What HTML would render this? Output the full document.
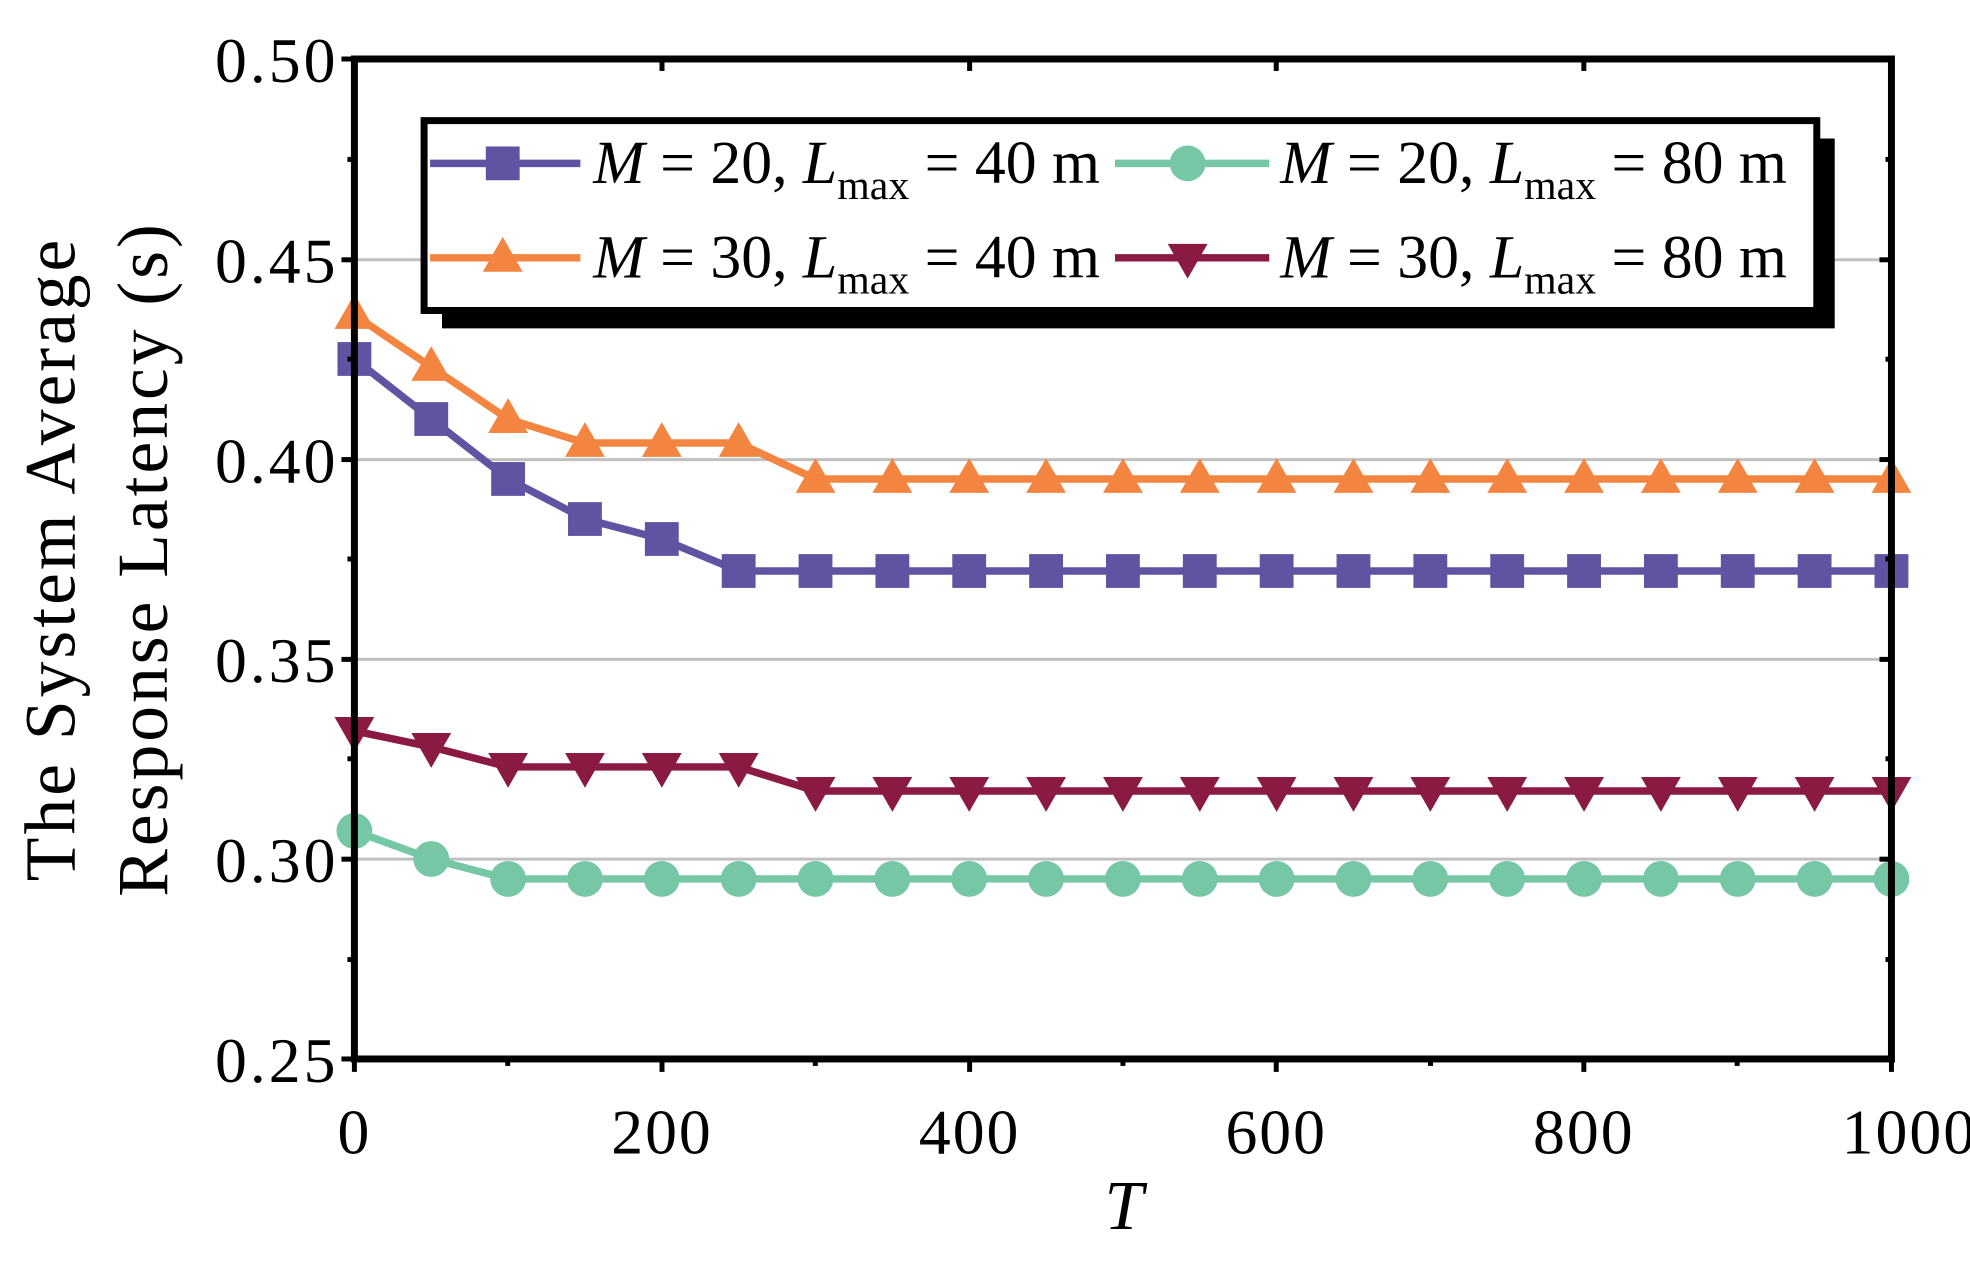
<!DOCTYPE html><html><head><style>body{margin:0;background:#fff}svg{display:block}text{font-family:"Liberation Serif",serif;fill:#000}</style></head><body>
<svg width="1970" height="1264" viewBox="0 0 1970 1264" xmlns="http://www.w3.org/2000/svg">
<defs>
<marker id="msq" markerUnits="userSpaceOnUse" markerWidth="40" markerHeight="40" refX="20" refY="20" overflow="visible"><rect x="3" y="3" width="34" height="34" fill="#5e54a2"/></marker>
<marker id="mci" markerUnits="userSpaceOnUse" markerWidth="40" markerHeight="40" refX="20" refY="20" overflow="visible"><circle cx="20" cy="20" r="18" fill="#76c7a6"/></marker>
<marker id="mtu" markerUnits="userSpaceOnUse" markerWidth="40" markerHeight="40" refX="20" refY="20" overflow="visible"><polygon points="20,-1 40,34 0,34" fill="#f48541"/></marker>
<marker id="mtd" markerUnits="userSpaceOnUse" markerWidth="40" markerHeight="40" refX="20" refY="20" overflow="visible"><polygon points="20,41 40,6 0,6" fill="#8a1a41"/></marker>
</defs>
<g transform="matrix(0.9955 0 0 0.994 0 0.35)">
<g stroke="#c0c0c0" stroke-width="3">
<line x1="356" x2="1900" y1="261" y2="261"/><line x1="356" x2="1900" y1="462" y2="462"/><line x1="356" x2="1900" y1="663" y2="663"/><line x1="356" x2="1900" y1="864" y2="864"/>
</g>
<g fill="none" stroke-width="7.5" stroke-linejoin="round">
<polyline stroke="#f48541" marker-start="url(#mtu)" marker-mid="url(#mtu)" marker-end="url(#mtu)" points="356,316.5 433.2,368.8 510.4,421.2 587.6,445.3 664.8,445.3 742,445.3 819.2,481.5 896.4,481.5 973.6,481.5 1050.8,481.5 1128,481.5 1205.2,481.5 1282.4,481.5 1359.6,481.5 1436.8,481.5 1514,481.5 1591.2,481.5 1668.4,481.5 1745.6,481.5 1822.8,481.5 1900,481.5"/>
<polyline stroke="#5e54a2" marker-start="url(#msq)" marker-mid="url(#msq)" marker-end="url(#msq)" points="356,360.8 433.2,421.2 510.4,481.5 587.6,521.8 664.8,541.9 742,574.1 819.2,574.1 896.4,574.1 973.6,574.1 1050.8,574.1 1128,574.1 1205.2,574.1 1282.4,574.1 1359.6,574.1 1436.8,574.1 1514,574.1 1591.2,574.1 1668.4,574.1 1745.6,574.1 1822.8,574.1 1900,574.1"/>
<polyline stroke="#8a1a41" marker-start="url(#mtd)" marker-mid="url(#mtd)" marker-end="url(#mtd)" points="356,735 433.2,751.1 510.4,771.2 587.6,771.2 664.8,771.2 742,771.2 819.2,795.4 896.4,795.4 973.6,795.4 1050.8,795.4 1128,795.4 1205.2,795.4 1282.4,795.4 1359.6,795.4 1436.8,795.4 1514,795.4 1591.2,795.4 1668.4,795.4 1745.6,795.4 1822.8,795.4 1900,795.4"/>
<polyline stroke="#76c7a6" marker-start="url(#mci)" marker-mid="url(#mci)" marker-end="url(#mci)" points="356,835.6 433.2,863.8 510.4,883.9 587.6,883.9 664.8,883.9 742,883.9 819.2,883.9 896.4,883.9 973.6,883.9 1050.8,883.9 1128,883.9 1205.2,883.9 1282.4,883.9 1359.6,883.9 1436.8,883.9 1514,883.9 1591.2,883.9 1668.4,883.9 1745.6,883.9 1822.8,883.9 1900,883.9"/>
</g>
<rect x="356" y="59" width="1544" height="1006" fill="none" stroke="#000" stroke-width="7"/>
<g stroke="#000" stroke-width="5">
<line x1="343" x2="356" y1="59" y2="59"/><line x1="343" x2="356" y1="261" y2="261"/><line x1="343" x2="356" y1="462" y2="462"/><line x1="343" x2="356" y1="663" y2="663"/><line x1="343" x2="356" y1="864" y2="864"/><line x1="343" x2="356" y1="1065" y2="1065"/>
<line x1="349" x2="356" y1="160" y2="160"/><line x1="349" x2="356" y1="361" y2="361"/><line x1="349" x2="356" y1="562" y2="562"/><line x1="349" x2="356" y1="763" y2="763"/><line x1="349" x2="356" y1="965" y2="965"/>
<line x1="1900" x2="1888" y1="261" y2="261"/><line x1="1900" x2="1888" y1="462" y2="462"/><line x1="1900" x2="1888" y1="663" y2="663"/><line x1="1900" x2="1888" y1="864" y2="864"/>
<line x1="1900" x2="1894" y1="160" y2="160"/><line x1="1900" x2="1894" y1="361" y2="361"/><line x1="1900" x2="1894" y1="562" y2="562"/><line x1="1900" x2="1894" y1="763" y2="763"/><line x1="1900" x2="1894" y1="965" y2="965"/>
<line x1="356" x2="356" y1="1065" y2="1078"/><line x1="665" x2="665" y1="1065" y2="1078"/><line x1="974" x2="974" y1="1065" y2="1078"/><line x1="1282" x2="1282" y1="1065" y2="1078"/><line x1="1591" x2="1591" y1="1065" y2="1078"/><line x1="1900" x2="1900" y1="1065" y2="1078"/>
<line x1="510" x2="510" y1="1065" y2="1072"/><line x1="819" x2="819" y1="1065" y2="1072"/><line x1="1128" x2="1128" y1="1065" y2="1072"/><line x1="1437" x2="1437" y1="1065" y2="1072"/><line x1="1745" x2="1745" y1="1065" y2="1072"/>
<line x1="356" x2="356" y1="59" y2="71"/><line x1="665" x2="665" y1="59" y2="71"/><line x1="974" x2="974" y1="59" y2="71"/><line x1="1282" x2="1282" y1="59" y2="71"/><line x1="1591" x2="1591" y1="59" y2="71"/>
</g>
<g font-size="64" text-anchor="end" letter-spacing="3">
<text x="340" y="82">0.50</text><text x="340" y="284">0.45</text><text x="340" y="485">0.40</text><text x="340" y="686">0.35</text><text x="340" y="887">0.30</text><text x="340" y="1088">0.25</text>
</g>
<g font-size="64" text-anchor="middle" letter-spacing="2">
<text x="356" y="1160">0</text><text x="665" y="1160">200</text><text x="974" y="1160">400</text><text x="1282" y="1160">600</text><text x="1591" y="1160">800</text><text x="1918" y="1160">1000</text>
<text x="1130" y="1236" font-style="italic" font-size="70">T</text>
<text transform="translate(75,562) rotate(-90)" font-size="72" letter-spacing="3">The System Average</text>
<text transform="translate(168,562) rotate(-90)" font-size="72" letter-spacing="3">Response Latency (s)</text>
</g>
<rect x="444" y="139" width="1399" height="191" fill="#000"/>
<rect x="426" y="121" width="1399" height="191" fill="#fff" stroke="#000" stroke-width="7"/>
<g stroke-width="7.5">
<line x1="432" x2="583" y1="164" y2="164" stroke="#5e54a2"/><line x1="505" x2="505" y1="164" y2="164" marker-start="url(#msq)"/>
<line x1="432" x2="583" y1="259" y2="259" stroke="#f48541"/><line x1="505" x2="505" y1="259" y2="259" marker-start="url(#mtu)"/>
<line x1="1120" x2="1275" y1="164" y2="164" stroke="#76c7a6"/><line x1="1193" x2="1193" y1="164" y2="164" marker-start="url(#mci)"/>
<line x1="1120" x2="1275" y1="259" y2="259" stroke="#8a1a41"/><line x1="1193" x2="1193" y1="259" y2="259" marker-start="url(#mtd)"/>
</g>
<g font-size="62">
<text x="596" y="184"><tspan font-style="italic">M</tspan> = 20, <tspan font-style="italic">L</tspan><tspan font-size="42" dy="16">max</tspan><tspan dy="-16"> = 40 m</tspan></text>
<text x="596" y="279"><tspan font-style="italic">M</tspan> = 30, <tspan font-style="italic">L</tspan><tspan font-size="42" dy="16">max</tspan><tspan dy="-16"> = 40 m</tspan></text>
<text x="1286" y="184"><tspan font-style="italic">M</tspan> = 20, <tspan font-style="italic">L</tspan><tspan font-size="42" dy="16">max</tspan><tspan dy="-16"> = 80 m</tspan></text>
<text x="1286" y="279"><tspan font-style="italic">M</tspan> = 30, <tspan font-style="italic">L</tspan><tspan font-size="42" dy="16">max</tspan><tspan dy="-16"> = 80 m</tspan></text>
</g>
</g>
</svg></body></html>
